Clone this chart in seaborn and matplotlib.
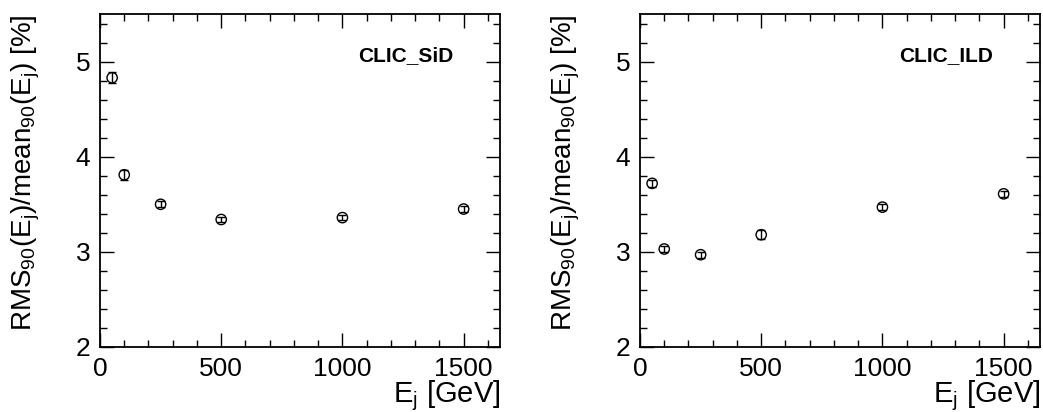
import matplotlib
matplotlib.use("Agg")
import matplotlib.pyplot as plt
import seaborn as sns
import pandas as pd
from matplotlib.ticker import MultipleLocator

energies = [50, 100, 250, 500, 1000, 1500]
sid_values = [4.83, 3.81, 3.50, 3.34, 3.36, 3.45]
sid_errors = [0.06, 0.05, 0.03, 0.03, 0.03, 0.03]
ild_values = [3.72, 3.03, 2.97, 3.18, 3.47, 3.61]
ild_errors = [0.04, 0.03, 0.03, 0.05, 0.03, 0.03]
labels = ["CLIC_SiD", "CLIC_ILD"]

sns.set_theme(style="ticks")
plt.rcParams["font.family"] = ["Liberation Sans", "DejaVu Sans"]
plt.rcParams["mathtext.fontset"] = "custom"
plt.rcParams["mathtext.rm"] = "Liberation Sans"
plt.rcParams["mathtext.it"] = "Liberation Sans"
plt.rcParams["mathtext.bf"] = "Liberation Sans:bold"

fig = plt.figure(figsize=(10.43, 4.12), dpi=100)
positions = [[100/1043, 65/412, 400/1043, 333/412],
             [640/1043, 65/412, 400/1043, 333/412]]

datasets = [(sid_values, sid_errors), (ild_values, ild_errors)]
for pos, (vals, errs), lab in zip(positions, datasets, labels):
    ax = fig.add_axes(pos)
    df = pd.DataFrame({"E": energies, "val": vals, "err": errs})
    ax.errorbar(df["E"], df["val"], yerr=df["err"], fmt="none", ecolor="black",
                elinewidth=1.0, capsize=3, capthick=1.0, zorder=2)
    sns.scatterplot(data=df, x="E", y="val", ax=ax, marker="o", s=55,
                    facecolor="none", edgecolor="black", linewidth=1.0, zorder=3)
    ax.set_xlim(0, 1650)
    ax.set_ylim(2, 5.5)
    ax.xaxis.set_major_locator(MultipleLocator(500))
    ax.xaxis.set_minor_locator(MultipleLocator(100))
    ax.yaxis.set_major_locator(MultipleLocator(1))
    ax.yaxis.set_minor_locator(MultipleLocator(0.2))
    ax.tick_params(which="both", direction="in", top=True, right=True,
                   color="black", width=1.0, labelsize=19, labelcolor="black")
    ax.tick_params(which="major", length=10)
    ax.tick_params(which="minor", length=5)
    ax.tick_params(axis="x", which="major", pad=7)
    ax.tick_params(axis="y", which="major", pad=7)
    for sp in ax.spines.values():
        sp.set_visible(True)
        sp.set_color("black")
        sp.set_linewidth(1.3)
    ax.set_xlabel(r"E$_{\mathregular{j}}$ [GeV]", fontsize=21, color="black")
    ax.xaxis.set_label_coords(1.0, -0.095)
    ax.xaxis.label.set_horizontalalignment("right")
    ax.set_ylabel(r"RMS$_{\mathregular{90}}$(E$_{\mathregular{j}}$)/mean$_{\mathregular{90}}$(E$_{\mathregular{j}}$) [%]",
                  fontsize=20, color="black")
    ax.yaxis.set_label_coords(-0.145, 1.0)
    ax.yaxis.label.set_horizontalalignment("right")
    ax.text(0.883, 0.874, lab, transform=ax.transAxes, ha="right", va="center",
            fontsize=15, fontweight="bold", color="black")
    ax.set_facecolor("white")

fig.savefig("out.png", dpi=100, facecolor="white")
